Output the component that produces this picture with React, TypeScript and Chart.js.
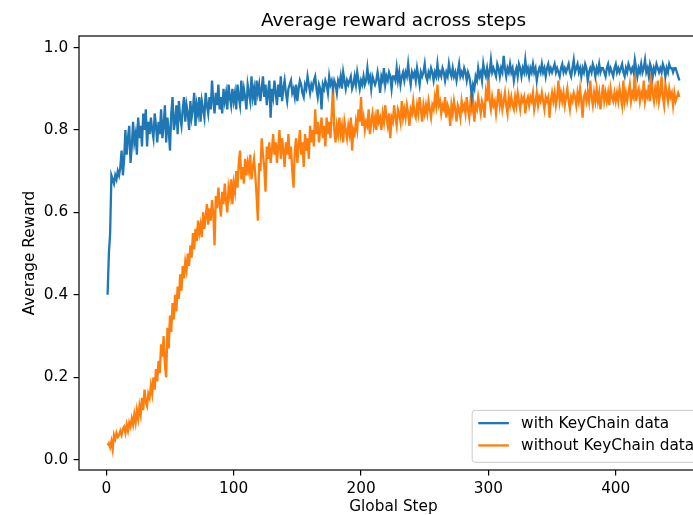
import React, { useEffect, useRef } from "react";
import { Chart, registerables } from "chart.js";

Chart.register(...registerables);

const TITLE = "Average reward across steps";
const X_LABEL = "Global Step";
const Y_LABEL = "Average Reward";
const seriesLabels = ["with KeyChain data", "without KeyChain data"];
const seriesColors = ["#1f77b4", "#ff7f0e"];
const xTicks = [0, 100, 200, 300, 400];
const yTicks = [0, 0.2, 0.4, 0.6, 0.8, 1.0];

const withKeyChain = [
  0.40, 0.50, 0.55, 0.69, 0.68, 0.67, 0.69, 0.68, 0.70, 0.69,
  0.71, 0.75, 0.69, 0.73, 0.80, 0.74, 0.78, 0.81, 0.72, 0.76,
  0.82, 0.77, 0.79, 0.74, 0.83, 0.78, 0.81, 0.76, 0.84, 0.80,
  0.85, 0.76, 0.82, 0.79, 0.83, 0.80, 0.78, 0.84, 0.81, 0.77,
  0.82, 0.79, 0.85, 0.78, 0.81, 0.86, 0.77, 0.83, 0.80, 0.75,
  0.84, 0.88, 0.80, 0.82, 0.86, 0.79, 0.87, 0.83, 0.81, 0.85,
  0.88, 0.82, 0.86, 0.84, 0.80, 0.87, 0.83, 0.85, 0.89, 0.81,
  0.86, 0.84, 0.88, 0.82, 0.87, 0.85, 0.83, 0.89, 0.86, 0.84,
  0.88, 0.85, 0.92, 0.87, 0.84, 0.89, 0.86, 0.91, 0.85, 0.88,
  0.84, 0.90, 0.87, 0.89, 0.85, 0.91, 0.88, 0.86, 0.90, 0.87,
  0.89, 0.85, 0.91, 0.88, 0.86, 0.92, 0.87, 0.90, 0.88, 0.85,
  0.91, 0.89, 0.87, 0.93, 0.88, 0.90, 0.86, 0.92, 0.89, 0.91,
  0.87, 0.90, 0.93, 0.88, 0.91, 0.86, 0.89, 0.92, 0.83, 0.90,
  0.88, 0.92, 0.89, 0.86, 0.91, 0.88, 0.93, 0.87, 0.90, 0.92,
  0.89, 0.87, 0.90, 0.91, 0.92, 0.89, 0.90, 0.88, 0.91, 0.87,
  0.90, 0.92, 0.91, 0.89, 0.88, 0.91, 0.90, 0.93, 0.91, 0.89,
  0.91, 0.90, 0.92, 0.93, 0.90, 0.88, 0.91, 0.90, 0.85, 0.91,
  0.90, 0.92, 0.91, 0.89, 0.93, 0.91, 0.92, 0.90, 0.92, 0.91,
  0.89, 0.92, 0.91, 0.93, 0.90, 0.94, 0.92, 0.90, 0.92, 0.91,
  0.92, 0.93, 0.90, 0.91, 0.93, 0.91, 0.94, 0.92, 0.90, 0.92,
  0.91, 0.93, 0.91, 0.92, 0.95, 0.92, 0.93, 0.90, 0.93, 0.92,
  0.91, 0.92, 0.94, 0.92, 0.89, 0.93, 0.92, 0.95, 0.91, 0.93,
  0.92, 0.94, 0.93, 0.90, 0.93, 0.93, 0.92, 0.95, 0.92, 0.94,
  0.91, 0.93, 0.94, 0.92, 0.94, 0.93, 0.96, 0.93, 0.91, 0.94,
  0.93, 0.94, 0.92, 0.95, 0.93, 0.91, 0.94, 0.93, 0.94, 0.96,
  0.93, 0.92, 0.94, 0.93, 0.95, 0.94, 0.92, 0.94, 0.93, 0.96,
  0.93, 0.94, 0.93, 0.95, 0.94, 0.92, 0.94, 0.93, 0.96, 0.94,
  0.93, 0.95, 0.93, 0.94, 0.92, 0.94, 0.96, 0.93, 0.94, 0.93,
  0.95, 0.94, 0.92, 0.94, 0.93, 0.91, 0.88, 0.91, 0.90, 0.93,
  0.92, 0.95, 0.93, 0.94, 0.92, 0.96, 0.94, 0.93, 0.95, 0.93,
  0.94, 0.97, 0.94, 0.95, 0.94, 0.93, 0.96, 0.95, 0.93, 0.95,
  0.94, 0.98, 0.95, 0.93, 0.95, 0.94, 0.96, 0.94, 0.95, 0.92,
  0.94, 0.95, 0.93, 0.96, 0.95, 0.93, 0.95, 0.94, 0.97, 0.94,
  0.95, 0.93, 0.95, 0.94, 0.96, 0.94, 0.95, 0.92, 0.94, 0.95,
  0.94, 0.96, 0.94, 0.95, 0.93, 0.95, 0.96, 0.94, 0.95, 0.94,
  0.95, 0.96, 0.94, 0.95, 0.94, 0.93, 0.95, 0.96, 0.94, 0.95,
  0.94, 0.95, 0.96, 0.94, 0.93, 0.95, 0.97, 0.94, 0.95, 0.96,
  0.94, 0.95, 0.93, 0.95, 0.94, 0.96, 0.95, 0.92, 0.94, 0.95,
  0.94, 0.96, 0.95, 0.93, 0.95, 0.94, 0.96, 0.94, 0.95, 0.95,
  0.94, 0.93, 0.95, 0.96, 0.94, 0.95, 0.94, 0.93, 0.95, 0.96,
  0.94, 0.95, 0.94, 0.95, 0.96, 0.94, 0.93, 0.95, 0.94, 0.96,
  0.95, 0.94, 0.95, 0.94, 0.97, 0.95, 0.93, 0.95, 0.94, 0.96,
  0.94, 0.95, 0.97, 0.94, 0.95, 0.93, 0.96, 0.95, 0.93, 0.95,
  0.94, 0.96, 0.95, 0.94, 0.95, 0.94, 0.96, 0.95, 0.93, 0.95,
  0.94, 0.96, 0.95, 0.95, 0.94, 0.95, 0.95, 0.94, 0.93, 0.92,
];

const withoutKeyChain = [
  0.035, 0.04, 0.03, 0.045, 0.025, 0.06, 0.05, 0.065, 0.055, 0.06,
  0.07, 0.06, 0.075, 0.08, 0.065, 0.085, 0.07, 0.09, 0.08, 0.10,
  0.085, 0.11, 0.09, 0.12, 0.10, 0.13, 0.11, 0.15, 0.12, 0.17,
  0.14, 0.13, 0.16, 0.15, 0.18, 0.16, 0.20, 0.17, 0.22, 0.19,
  0.24, 0.21, 0.28, 0.25, 0.30, 0.23, 0.20, 0.32, 0.27, 0.35,
  0.31, 0.38, 0.34, 0.40, 0.36, 0.42, 0.39, 0.45, 0.41, 0.47,
  0.44, 0.48, 0.46, 0.50, 0.47, 0.52, 0.49, 0.55, 0.51, 0.56,
  0.53, 0.58, 0.55, 0.57, 0.54, 0.60, 0.56, 0.59, 0.62, 0.57,
  0.61, 0.58, 0.63, 0.60, 0.52, 0.64, 0.61, 0.66, 0.62, 0.59,
  0.65, 0.62, 0.67, 0.63, 0.60, 0.66, 0.64, 0.68, 0.62, 0.67,
  0.65, 0.70, 0.66, 0.72, 0.75, 0.68, 0.71, 0.67, 0.73, 0.69,
  0.72, 0.70, 0.74, 0.68, 0.71, 0.73, 0.69, 0.64, 0.58, 0.72,
  0.70, 0.78, 0.74, 0.71, 0.65, 0.76, 0.73, 0.77, 0.72, 0.75,
  0.79, 0.74, 0.77, 0.72, 0.76, 0.80, 0.73, 0.78, 0.75, 0.71,
  0.77, 0.74, 0.79, 0.73, 0.76, 0.70, 0.66, 0.75, 0.78, 0.72,
  0.76, 0.80, 0.74, 0.77, 0.71, 0.79, 0.75, 0.78, 0.73, 0.81,
  0.77, 0.80, 0.76, 0.85, 0.79, 0.82, 0.77, 0.80, 0.83, 0.78,
  0.81, 0.76, 0.83, 0.79, 0.82, 0.78, 0.84, 0.91, 0.80, 0.77,
  0.81, 0.79, 0.83, 0.79, 0.81, 0.77, 0.82, 0.80, 0.78, 0.81,
  0.79, 0.83, 0.75, 0.80, 0.79, 0.82, 0.80, 0.85, 0.82, 0.88,
  0.81, 0.83, 0.80, 0.82, 0.81, 0.85, 0.79, 0.82, 0.84, 0.81,
  0.83, 0.80, 0.85, 0.82, 0.83, 0.80, 0.84, 0.82, 0.86, 0.83,
  0.81, 0.84, 0.78, 0.83, 0.82, 0.86, 0.83, 0.81, 0.85, 0.84,
  0.82, 0.87, 0.83, 0.85, 0.83, 0.86, 0.84, 0.81, 0.85, 0.84,
  0.87, 0.84, 0.83, 0.86, 0.84, 0.88, 0.85, 0.82, 0.86, 0.84,
  0.86, 0.84, 0.87, 0.85, 0.83, 0.86, 0.85, 0.88, 0.86, 0.91,
  0.86, 0.87, 0.84, 0.86, 0.85, 0.88, 0.83, 0.86, 0.85, 0.81,
  0.86, 0.84, 0.87, 0.85, 0.82, 0.86, 0.85, 0.83, 0.87, 0.85,
  0.86, 0.84, 0.88, 0.85, 0.83, 0.87, 0.85, 0.87, 0.82, 0.86,
  0.85, 0.88, 0.86, 0.84, 0.87, 0.86, 0.83, 0.89, 0.87, 0.94,
  0.87, 0.85, 0.88, 0.86, 0.87, 0.84, 0.87, 0.90, 0.86, 0.88,
  0.85, 0.87, 0.89, 0.86, 0.84, 0.88, 0.86, 0.88, 0.86, 0.85,
  0.88, 0.86, 0.89, 0.87, 0.85, 0.88, 0.87, 0.88, 0.84, 0.87,
  0.88, 0.86, 0.88, 0.87, 0.89, 0.85, 0.87, 0.89, 0.86, 0.88,
  0.87, 0.89, 0.87, 0.85, 0.88, 0.87, 0.88, 0.83, 0.87, 0.89,
  0.87, 0.89, 0.86, 0.88, 0.92, 0.87, 0.89, 0.87, 0.89, 0.86,
  0.88, 0.90, 0.87, 0.85, 0.88, 0.87, 0.89, 0.88, 0.86, 0.89,
  0.87, 0.90, 0.87, 0.83, 0.88, 0.89, 0.87, 0.89, 0.87, 0.92,
  0.88, 0.86, 0.89, 0.87, 0.90, 0.87, 0.89, 0.85, 0.88, 0.91,
  0.87, 0.89, 0.87, 0.89, 0.86, 0.90, 0.88, 0.87, 0.89, 0.87,
  0.89, 0.87, 0.90, 0.88, 0.86, 0.92, 0.87, 0.89, 0.87, 0.89,
  0.91, 0.87, 0.89, 0.88, 0.95, 0.87, 0.89, 0.90, 0.87, 0.89,
  0.88, 0.92, 0.87, 0.89, 0.88, 0.91, 0.87, 0.94, 0.89, 0.87,
  0.90, 0.88, 0.92, 0.87, 0.89, 0.93, 0.88, 0.86, 0.91, 0.89,
  0.87, 0.90, 0.88, 0.89, 0.86, 0.89, 0.87, 0.88, 0.89, 0.88,
];

const FONT = '"DejaVu Sans", sans-serif';
const FS = 15.3;
const CANVAS_W = 760;
const CANVAS_H = 515;

const decorPlugin = {
  id: "decor",
  afterDatasetsDraw(chart: any) {
    const { ctx, chartArea: ca } = chart;
    ctx.save();
    ctx.strokeStyle = "#000";
    ctx.lineWidth = 1.2;
    ctx.strokeRect(ca.left, ca.top, ca.right - ca.left, ca.bottom - ca.top);
    ctx.fillStyle = "#000";
    ctx.font = `18.4px ${FONT}`;
    ctx.textAlign = "center";
    ctx.textBaseline = "alphabetic";
    ctx.fillText(TITLE, (ca.left + ca.right) / 2, ca.top - 9.6);
    ctx.font = `${FS}px ${FONT}`;
    const tw = Math.max(...seriesLabels.map((l) => ctx.measureText(l).width));
    const right = ca.right - 0.5 * FS;
    const bottom = ca.bottom - 0.5 * FS;
    const w = 0.4 * FS + 2 * FS + 0.8 * FS + tw + 0.4 * FS;
    const h = 52;
    const left = right - w;
    const top = bottom - h;
    ctx.beginPath();
    (ctx as any).roundRect(left, top, w, h, 3);
    ctx.fillStyle = "rgba(255,255,255,0.8)";
    ctx.fill();
    ctx.strokeStyle = "#cccccc";
    ctx.lineWidth = 1;
    ctx.stroke();
    seriesLabels.forEach((label, i) => {
      const cy = top + 12.8 + i * 22.3;
      const hx = left + 0.4 * FS;
      ctx.strokeStyle = seriesColors[i];
      ctx.lineWidth = 2.3;
      ctx.beginPath();
      ctx.moveTo(hx, cy);
      ctx.lineTo(hx + 2 * FS, cy);
      ctx.stroke();
      ctx.fillStyle = "#000";
      ctx.textAlign = "left";
      ctx.textBaseline = "middle";
      ctx.fillText(label, hx + 2.8 * FS, cy + 1);
    });
    ctx.restore();
  },
};

export default function App() {
  const canvasRef = useRef<HTMLCanvasElement | null>(null);

  useEffect(() => {
    const canvas = canvasRef.current;
    if (!canvas) return;
    const datasets = [withKeyChain, withoutKeyChain].map((arr, k) => ({
      label: seriesLabels[k],
      data: arr.map((v, i) => ({ x: i + 1, y: v })),
      borderColor: seriesColors[k],
      backgroundColor: seriesColors[k],
      borderWidth: 2.3,
      pointRadius: 0,
      tension: 0,
      fill: false,
    }));
    const chart = new Chart(canvas, {
      type: "line",
      data: { datasets },
      options: {
        animation: false,
        responsive: false,
        devicePixelRatio: 1,
        layout: { padding: { top: 36, left: 0, right: CANVAS_W - 708, bottom: 0 } },
        plugins: {
          legend: { display: false },
          title: { display: false },
          tooltip: { enabled: false },
        },
        scales: {
          x: {
            type: "linear",
            min: -21.45,
            max: 472.45,
            afterFit: (s: any) => {
              s.height = 45;
            },
            afterBuildTicks: (s: any) => {
              s.ticks = xTicks.map((v) => ({ value: v }));
            },
            ticks: {
              color: "#000",
              font: { family: FONT, size: FS },
              padding: 4,
              maxRotation: 0,
              callback: (v: any) => String(v),
            },
            grid: {
              display: true,
              drawOnChartArea: false,
              drawTicks: true,
              tickLength: 5.4,
              color: "#000",
              lineWidth: 1.2,
            },
            border: { display: false },
            title: {
              display: true,
              text: X_LABEL,
              color: "#000",
              font: { family: FONT, size: FS },
              padding: { top: 0, bottom: -1 },
            },
          },
          y: {
            type: "linear",
            min: -0.025,
            max: 1.028,
            afterFit: (s: any) => {
              s.width = 79;
            },
            afterBuildTicks: (s: any) => {
              s.ticks = yTicks.map((v) => ({ value: v }));
            },
            ticks: {
              color: "#000",
              font: { family: FONT, size: FS },
              padding: 5.4,
              callback: (v: any) => Number(v).toFixed(1),
            },
            grid: {
              display: true,
              drawOnChartArea: false,
              drawTicks: true,
              tickLength: 5.4,
              color: "#000",
              lineWidth: 1.2,
            },
            border: { display: false },
            title: {
              display: true,
              text: Y_LABEL,
              color: "#000",
              font: { family: FONT, size: FS },
              padding: { top: 21, bottom: 0 },
            },
          },
        },
      },
      plugins: [decorPlugin],
    });
    return () => chart.destroy();
  }, []);

  return (
    <div
      style={{
        position: "fixed",
        left: 0,
        top: 0,
        width: 693,
        height: 515,
        overflow: "hidden",
        background: "#fff",
      }}
    >
      <canvas
        ref={canvasRef}
        width={CANVAS_W}
        height={CANVAS_H}
        style={{ display: "block", width: CANVAS_W, height: CANVAS_H }}
      />
    </div>
  );
}
